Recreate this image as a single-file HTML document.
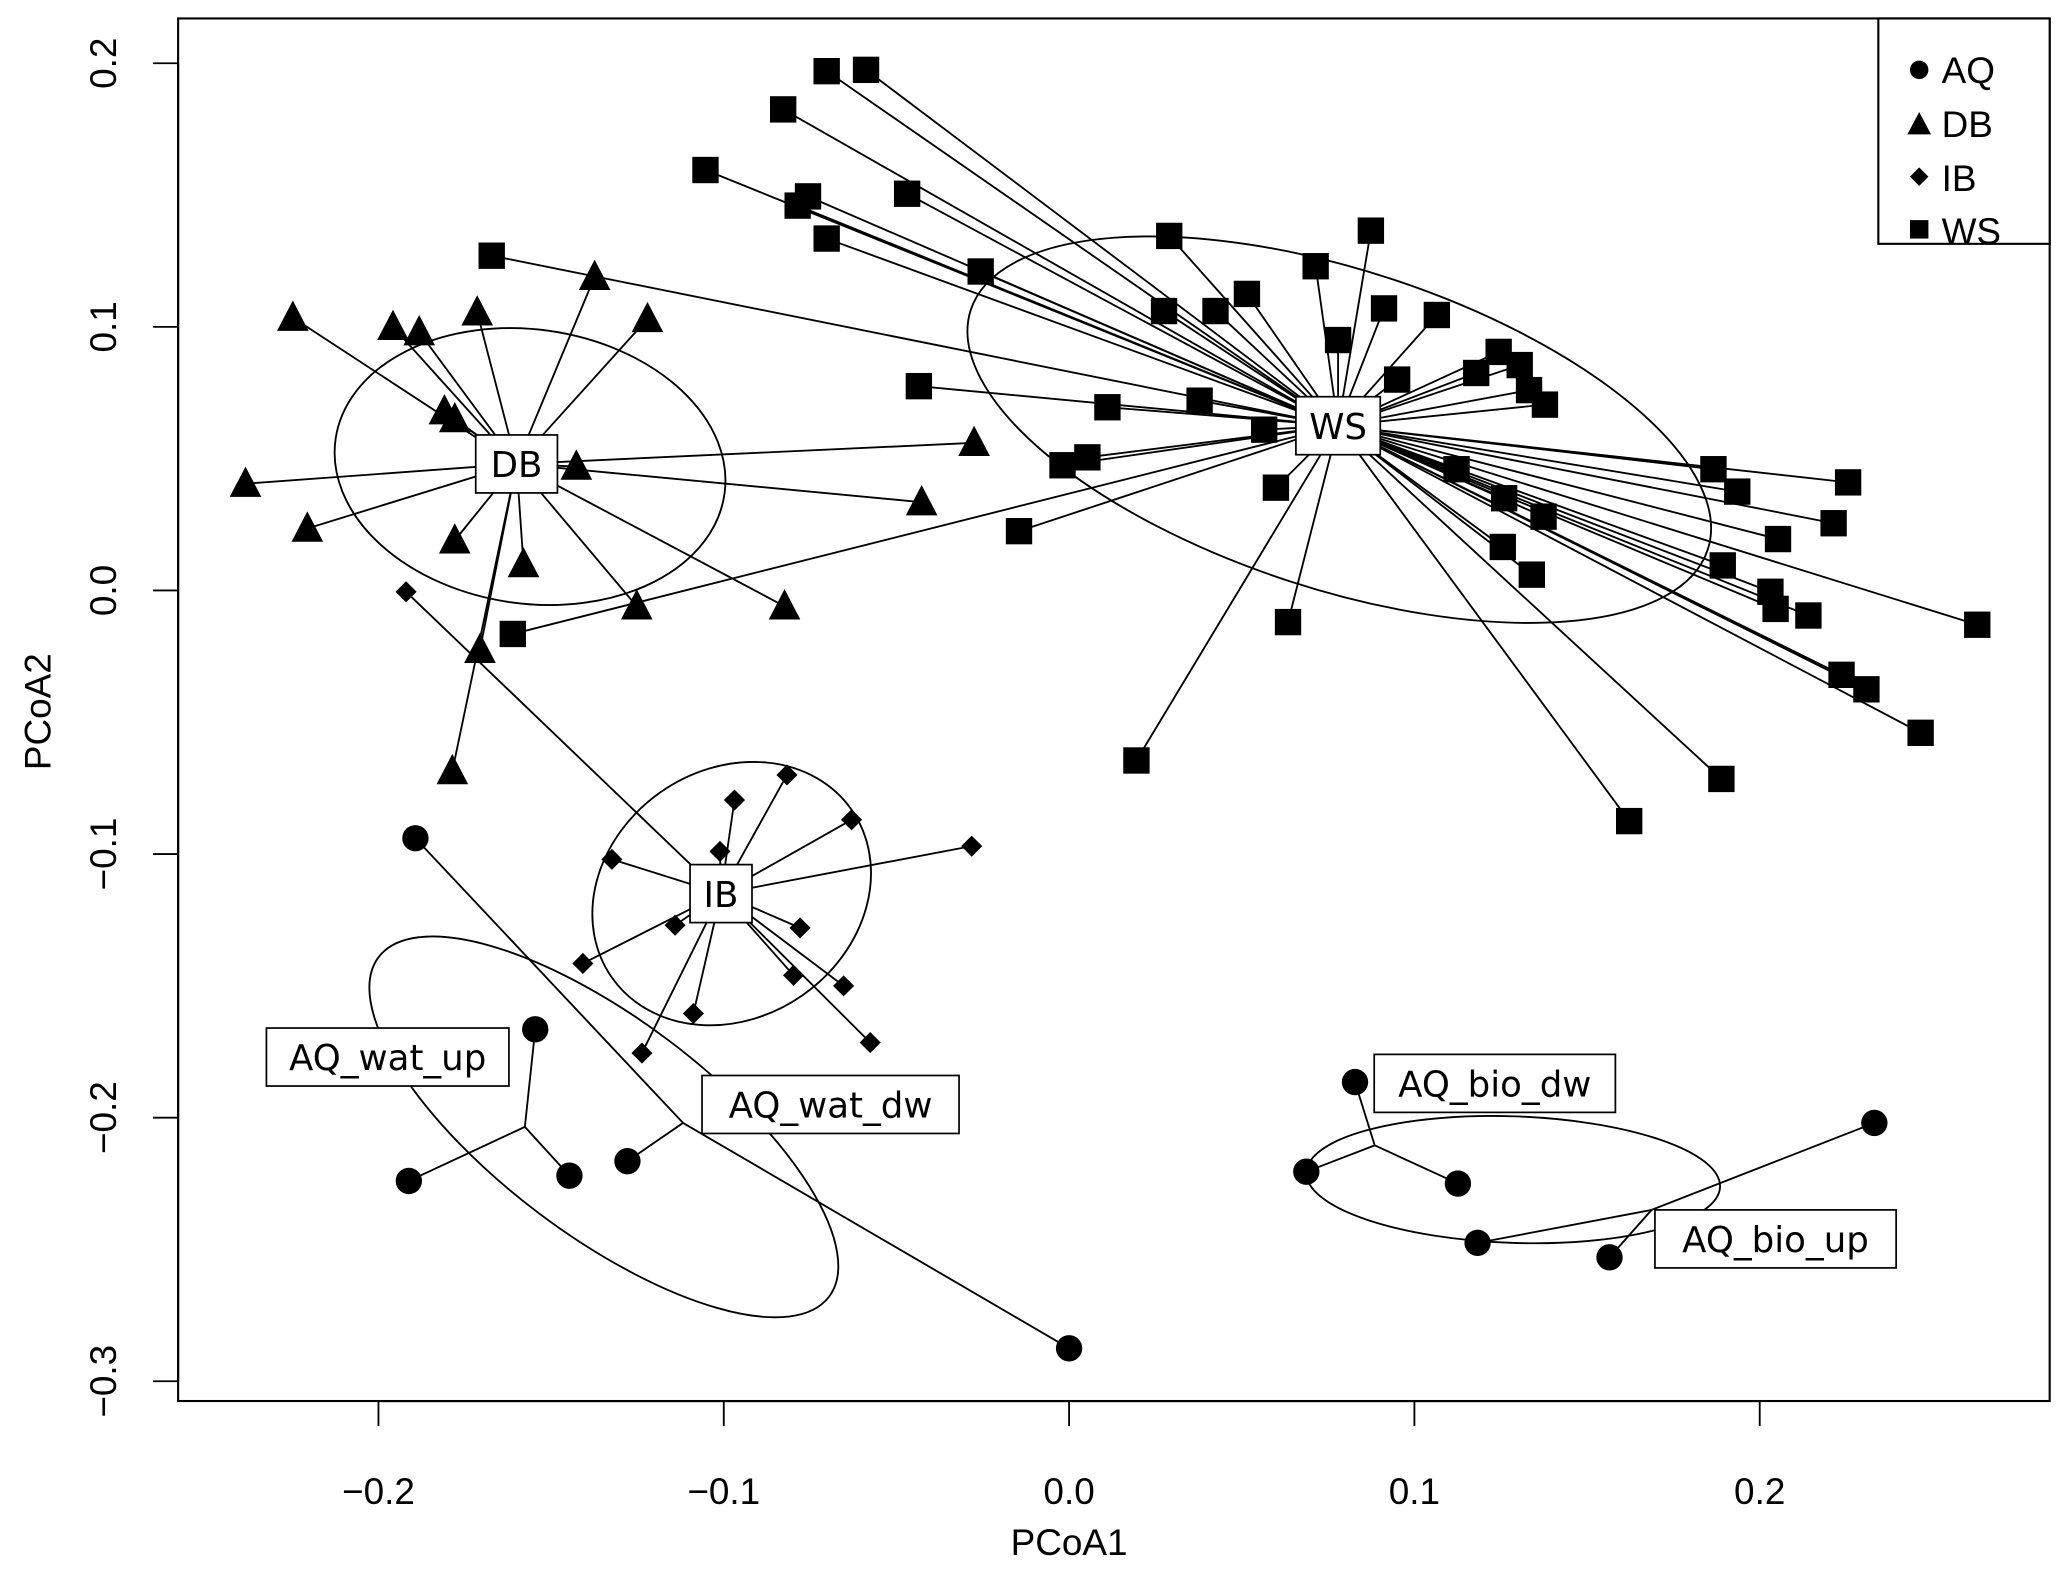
<!DOCTYPE html>
<html><head><meta charset="utf-8"><style>
html,body{margin:0;padding:0;background:#fff;}
svg{display:block;}
text{font-family:"Liberation Sans",sans-serif;fill:#000;}
.lbl{font-family:"DejaVu Sans","Liberation Sans",sans-serif;}
</style></head><body>
<svg id="chart" width="2067" height="1575" viewBox="0 0 1568 1195" xmlns="http://www.w3.org/2000/svg">
<rect x="135" y="14" width="1420" height="1049" fill="none" stroke="#000" stroke-width="1.6"/>
<g id="ellipses"></g><g id="spiders"></g><g id="points"></g><g id="labels"></g><g id="axes"></g>
<g>
<rect x="1425" y="14" width="130" height="171" fill="#fff" stroke="#000" stroke-width="1.6"/>
<circle cx="1456" cy="53" r="7" fill="#000"/>
<text x="1473" y="63" font-size="28">AQ</text>
<polygon points="1456,85 1465,102 1447,102" fill="#000"/>
<text x="1473" y="104" font-size="28">DB</text>
<polygon points="1456,127 1463,134 1456,141 1449,134" fill="#000"/>
<text x="1473" y="145" font-size="28">IB</text>
<rect x="1449" y="167" width="14" height="14" fill="#000"/>
<text x="1473" y="185" font-size="28">WS</text>
</g>
<text x="811" y="1180" font-size="28" text-anchor="middle">PCoA1</text>
<text x="0" y="0" font-size="28" text-anchor="middle" transform="translate(38,540) rotate(-90)">PCoA2</text>
</svg>
<script>
const NS='http://www.w3.org/2000/svg';
const xTicks=[-0.2,-0.1,0.0,0.1,0.2];
const xTickLabels=['\u22120.2','\u22120.1','0.0','0.1','0.2'];
const yTicks=[0.2,0.1,0.0,-0.1,-0.2,-0.3];
const yTickLabels=['0.2','0.1','0.0','\u22120.1','\u22120.2','\u22120.3'];
const dbCentroid=[-0.160,0.048];
const dbX=[-0.2248,-0.1958,-0.1882,-0.1714,-0.1374,-0.1221,-0.1809,-0.1779,-0.2385,-0.2206,-0.1779,-0.1580,-0.1427,-0.0427,-0.0275,-0.1252,-0.0824,-0.1706,-0.1786];
const dbY=[0.1035,0.100,0.098,0.1055,0.119,0.103,0.068,0.065,0.0405,0.0235,0.019,0.010,0.047,0.0335,0.056,-0.006,-0.006,-0.0225,-0.0685];
const ibCentroid=[-0.1008,-0.115];
const ibX=[-0.192,-0.0817,-0.0969,-0.063,-0.1011,-0.1324,-0.0282,-0.1141,-0.0779,-0.1408,-0.0798,-0.0653,-0.1088,-0.1237,-0.0576];
const ibY=[-0.0005,-0.070,-0.0795,-0.087,-0.099,-0.102,-0.097,-0.127,-0.128,-0.1415,-0.146,-0.150,-0.1605,-0.1755,-0.1715];
const wsCentroid=[0.0779,0.0625];
const wsX=[-0.0702,-0.0588,-0.0828,-0.1053,-0.0786,-0.0756,-0.0469,-0.0702,-0.0256,-0.1672,0.029,0.0874,0.0714,0.0275,0.0424,0.0515,0.0912,0.1065,0.0779,0.095,0.1179,0.1244,0.1305,0.1332,0.1378,-0.0435,0.0111,0.0378,0.0565,-0.0019,0.0053,0.0599,-0.0145,-0.1611,0.0634,0.0195,0.1122,0.126,0.1374,0.1256,0.134,0.1866,0.1935,0.2256,0.2214,0.2053,0.1893,0.2031,0.2046,0.2141,0.263,0.2237,0.2309,0.2466,0.1889,0.1622];
const wsY=[0.197,0.1975,0.1825,0.1595,0.146,0.1495,0.1505,0.1335,0.121,0.127,0.1345,0.1365,0.123,0.106,0.106,0.1125,0.107,0.1045,0.095,0.080,0.0825,0.0905,0.0855,0.076,0.0705,0.0775,0.0695,0.072,0.061,0.0475,0.0505,0.039,0.0225,-0.0165,-0.012,-0.0645,0.046,0.035,0.028,0.0165,0.006,0.046,0.0375,0.041,0.0255,0.0195,0.0095,-0.0005,-0.007,-0.0095,-0.013,-0.032,-0.0375,-0.054,-0.0715,-0.0875];
const watUpCentroid=[-0.1576,-0.2035];
const watUpX=[-0.1546,-0.1912,-0.1447];
const watUpY=[-0.1665,-0.224,-0.222];
const watDwCentroid=[-0.1118,-0.202];
const watDwX=[-0.1893,0.0,-0.1279];
const watDwY=[-0.094,-0.2875,-0.2165];
const bioDwCentroid=[0.0885,-0.2105];
const bioDwX=[0.0828,0.0687,0.1126];
const bioDwY=[-0.1865,-0.2205,-0.225];
const bioUpCentroid=[0.1687,-0.235];
const bioUpX=[0.2332,0.1183,0.1565];
const bioUpY=[-0.202,-0.2475,-0.253];

function sx(v){return 811+v*2620;}
function sy(v){return 448-v*2000;}
function mk(tag,attrs,parent){const e=document.createElementNS(NS,tag);for(const k in attrs)e.setAttribute(k,attrs[k]);parent.appendChild(e);return e;}
const gE=document.getElementById('ellipses'),gS=document.getElementById('spiders'),gP=document.getElementById('points'),gL=document.getElementById('labels'),gA=document.getElementById('axes');

let ax=mk('line',{x1:sx(-0.2),x2:sx(0.2),y1:1063,y2:1063,stroke:'#000','stroke-width':1.6},gA);


xTicks.forEach((t,i)=>{
  const l=mk('line',{x1:sx(t),x2:sx(t),y1:1063,y2:1082,stroke:'#000','stroke-width':1.4},gA);
  
  
  const tx=mk('text',{x:sx(t),y:1141,'font-size':28,'text-anchor':'middle'},gA);tx.textContent=xTickLabels[i];
  
  
});
let ay=mk('line',{x1:135,x2:135,y1:sy(0.2),y2:sy(-0.3),stroke:'#000','stroke-width':1.6},gA);


yTicks.forEach((t,i)=>{
  const l=mk('line',{x1:116,x2:135,y1:sy(t),y2:sy(t),stroke:'#000','stroke-width':1.4},gA);
  
  
  const tx=mk('text',{x:0,y:0,'font-size':28,'text-anchor':'middle',transform:`translate(88,${sy(t)}) rotate(-90)`},gA);tx.textContent=yTickLabels[i];
  
  
});

function ell(cx,cy,rx,ry,rot,name){
  const e=mk('ellipse',{cx:cx,cy:cy,rx:rx,ry:ry,transform:`rotate(${rot} ${cx} ${cy})`,fill:'none',stroke:'#000','stroke-width':1.4},gE);
  
  
}
ell(402,354,149,104,8,'db-ellipse');
ell(1016,326,294,121,18,'ws-ellipse');
ell(555,678,111,94,-35,'ib-ellipse');
ell(458,855,214,82,37,'aq-wat-ellipse');
ell(1148,895,157,48,2,'aq-bio-ellipse');

function marker(shape,x,y,name){
  let e;
  if(shape==='sq') e=mk('rect',{x:x-10,y:y-10,width:20,height:20,fill:'#000'},gP);
  else if(shape==='tri') e=mk('polygon',{points:`${x},${y-13} ${x+12},${y+10} ${x-12},${y+10}`,fill:'#000'},gP);
  else if(shape==='dia') e=mk('polygon',{points:`${x},${y-8} ${x+8},${y} ${x},${y+8} ${x-8},${y}`,fill:'#000'},gP);
  else e=mk('circle',{cx:x,cy:y,r:10,fill:'#000'},gP);
  
  
}
function group(c,xs,ys,shape,name){
  const cx=sx(c[0]),cy=sy(c[1]);
  xs.forEach((v,i)=>{
    const l=mk('line',{x1:cx,y1:cy,x2:sx(v),y2:sy(ys[i]),stroke:'#000','stroke-width':1.4},gS);
    
    
  });
  xs.forEach((v,i)=>marker(shape,sx(v),sy(ys[i]),name+'-point'));
}
group(dbCentroid,dbX,dbY,'tri','db');
group(ibCentroid,ibX,ibY,'dia','ib');
group(wsCentroid,wsX,wsY,'sq','ws');
group(watUpCentroid,watUpX,watUpY,'circ','aq-wat-up');
group(watDwCentroid,watDwX,watDwY,'circ','aq-wat-dw');
group(bioDwCentroid,bioDwX,bioDwY,'circ','aq-bio-dw');
group(bioUpCentroid,bioUpX,bioUpY,'circ','aq-bio-up');

function label(txt,cx,cy,w,name){
  const g=mk('g',{},gL);
  
  
  mk('rect',{x:cx-w/2,y:cy-22,width:w,height:44,fill:'#fff',stroke:'#000','stroke-width':1.3},g);
  const t=mk('text',{x:cx,y:cy+10,'font-size':27,'text-anchor':'middle',class:'lbl'},g);t.textContent=txt;
}
label('DB',sx(dbCentroid[0]),sy(dbCentroid[1]),62,'db-label');
label('WS',sx(wsCentroid[0]),sy(wsCentroid[1]),64,'ws-label');
label('IB',sx(ibCentroid[0]),sy(ibCentroid[1]),47,'ib-label');
label('AQ_wat_up',294,802,184,'aq-wat-up-label');
label('AQ_wat_dw',630,838,195,'aq-wat-dw-label');
label('AQ_bio_dw',1134,822,183,'aq-bio-dw-label');
label('AQ_bio_up',1347,940,183,'aq-bio-up-label');
</script>
</body></html>
